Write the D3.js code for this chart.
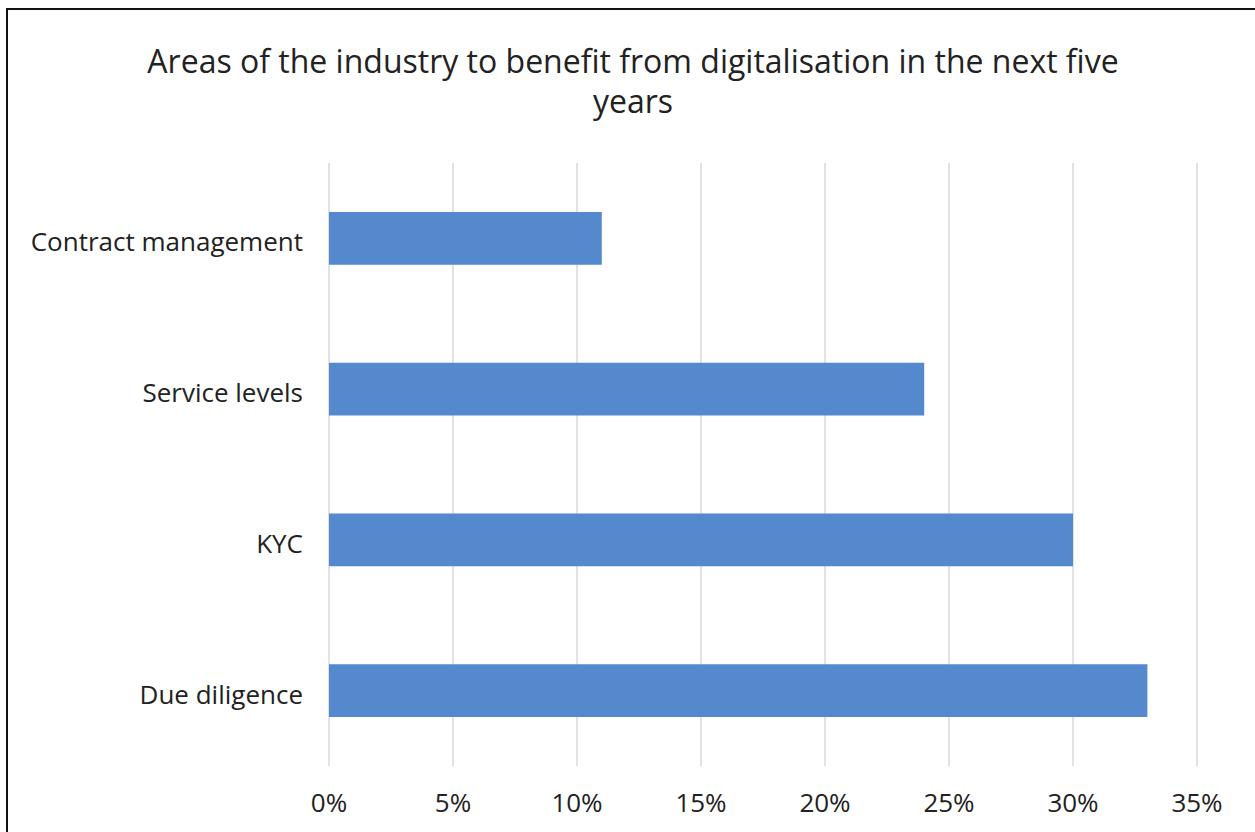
<!DOCTYPE html>
<html>
<head>
  <meta charset="UTF-8">
  <style>
    body { margin: 0; background-color: white; }
    svg { display: block; }
    text { font-family: "Open Sans", sans-serif; fill: #222; }
  </style>
</head>
<body>
<svg></svg>
<script src="https://d3js.org/d3.v7.min.js"></script>
<script>

let width = 1255, height = 832;

// Chart data
let categories = ["Contract management", "Service levels", "KYC", "Due diligence"];
let values = [11, 24, 30, 33];
let xTicks = [0, 5, 10, 15, 20, 25, 30, 35];
let titleLines = ["Areas of the industry to benefit from digitalisation in the next five", "years"];

let svg = d3.select("svg")
    .attr("width", width)
    .attr("height", height);

// frame (only top and left edges visible in the crop)
svg.append("path")
    .attr("d", "M7," + height + " V9 H" + width)
    .attr("fill", "none")
    .attr("stroke", "#111")
    .attr("stroke-width", 2);

let plotLeft = 329, plotRight = 1197, plotTop = 163, plotBottom = 766;

let x = d3.scaleLinear()
    .domain([0, 35])
    .range([plotLeft, plotRight]);

let y = d3.scaleBand()
    .domain(categories)
    .range([plotTop, plotBottom])
    .paddingInner(0.65)
    .paddingOuter(0.325);

// Title
svg.append("g")
    .selectAll("text")
    .data(titleLines)
    .enter()
    .append("text")
    .attr("x", 633)
    .attr("y", (d, i) => 73 + i * 40)
    .attr("text-anchor", "middle")
    .style("font-size", "32px")
    .text(d => d);

// Gridlines
svg.append("g")
    .selectAll("line")
    .data(xTicks)
    .enter()
    .append("line")
    .attr("x1", d => x(d))
    .attr("x2", d => x(d))
    .attr("y1", plotTop)
    .attr("y2", plotBottom)
    .attr("stroke", "#d9d9d9")
    .attr("stroke-width", 1.5);

// Bars
svg.append("g")
    .selectAll("rect")
    .data(categories)
    .enter()
    .append("rect")
    .attr("x", x(0))
    .attr("y", d => y(d))
    .attr("width", (d, i) => x(values[i]) - x(0))
    .attr("height", y.bandwidth())
    .attr("fill", "#5589cd");

// X axis labels
svg.append("g")
    .selectAll("text")
    .data(xTicks)
    .enter()
    .append("text")
    .attr("x", d => x(d))
    .attr("y", 812)
    .attr("text-anchor", "middle")
    .style("font-size", "26px")
    .text(d => d + "%");

// Category labels
svg.append("g")
    .selectAll("text")
    .data(categories)
    .enter()
    .append("text")
    .attr("x", 303)
    .attr("y", d => y(d) + y.bandwidth() / 2 + 4)
    .attr("dy", "0.35em")
    .attr("text-anchor", "end")
    .style("font-size", "26px")
    .text(d => d);

</script>
</body>
</html>
